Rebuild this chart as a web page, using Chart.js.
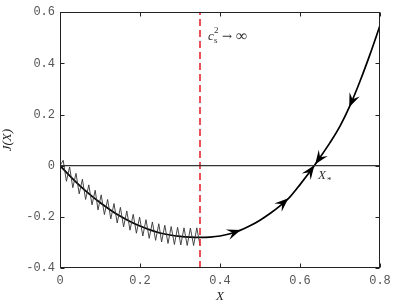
<!DOCTYPE html>
<html>
<head>
<meta charset="utf-8">
<script src="https://cdn.jsdelivr.net/npm/chart.js@4/dist/chart.umd.min.js"></script>
<style>body{margin:0;background:#fff}</style>
</head>
<body>
<canvas id="myChart" width="397" height="304"></canvas>
<script>
// smooth J(X) curve
const curveX = [0, 0.025, 0.05, 0.075, 0.1, 0.125, 0.15, 0.175, 0.2, 0.225, 0.25, 0.275, 0.3, 0.325, 0.35,
  0.375, 0.4, 0.425, 0.45, 0.475, 0.5, 0.525, 0.55, 0.575, 0.6, 0.625, 0.65, 0.675, 0.7, 0.725, 0.75, 0.775, 0.8];
const curveY = [0, -0.041, -0.079, -0.113, -0.144, -0.172, -0.197, -0.218, -0.236, -0.251, -0.263, -0.271, -0.276, -0.279, -0.28,
  -0.279, -0.275, -0.266, -0.253, -0.235, -0.213, -0.187, -0.157, -0.122, -0.074, -0.023, 0.032, 0.09, 0.155, 0.235, 0.33, 0.435, 0.548];

// oscillating branch
const zigX = [0, 0.008, 0.016, 0.024, 0.032, 0.040, 0.048, 0.056, 0.064, 0.072, 0.080, 0.088, 0.095, 0.103, 0.111,
  0.119, 0.127, 0.135, 0.143, 0.151, 0.159, 0.167, 0.175, 0.183, 0.191, 0.199, 0.207, 0.215, 0.223, 0.231,
  0.239, 0.247, 0.254, 0.262, 0.270, 0.278, 0.286, 0.294, 0.302, 0.310, 0.318, 0.326, 0.334, 0.342, 0.350];
const zigY = [0, 0.021, -0.061, -0.005, -0.086, -0.030, -0.110, -0.053, -0.132, -0.075, -0.153, -0.096, -0.173, -0.114, -0.191,
  -0.132, -0.208, -0.148, -0.224, -0.163, -0.239, -0.177, -0.252, -0.190, -0.264, -0.201, -0.275, -0.211, -0.284, -0.220,
  -0.292, -0.227, -0.298, -0.233, -0.304, -0.238, -0.308, -0.241, -0.310, -0.243, -0.312, -0.244, -0.312, -0.243, -0.311];

const csInfX = 0.35;
const xTicks = [0, 0.2, 0.4, 0.6, 0.8];
const yTicks = [-0.4, -0.2, 0, 0.2, 0.4, 0.6];

// arrow heads: tip position on curve and direction (+1 towards larger X)
const arrowX = [0.452, 0.571, 0.636, 0.723, 0.638];
const arrowDir = [1, 1, 1, -1, -1];

function pts(xs, ys) { return xs.map((x, i) => ({x: x, y: ys[i]})); }

function curveAt(x) {
  for (let i = 1; i < curveX.length; i++) {
    if (x <= curveX[i]) {
      const t = (x - curveX[i - 1]) / (curveX[i] - curveX[i - 1]);
      return curveY[i - 1] + t * (curveY[i] - curveY[i - 1]);
    }
  }
  return curveY[curveY.length - 1];
}

const framePlugin = {
  id: 'frame',
  afterDatasetsDraw(chart) {
    const ctx = chart.ctx, a = chart.chartArea;
    const xs = chart.scales.x, ys = chart.scales.y;
    ctx.save();
    ctx.strokeStyle = '#222';
    ctx.lineWidth = 1;
    const L = Math.round(a.left) + 0.5, R = Math.round(a.right) - 0.5;
    const T = Math.round(a.top) + 0.5, B = Math.round(a.bottom) - 0.5;
    ctx.strokeRect(L, T, R - L, B - T);
    ctx.beginPath();
    xTicks.forEach(v => {
      const p = Math.round(xs.getPixelForValue(v)) + 0.5;
      ctx.moveTo(p, B); ctx.lineTo(p, B - 4);
      ctx.moveTo(p, T); ctx.lineTo(p, T + 4);
    });
    yTicks.forEach(v => {
      const p = Math.round(ys.getPixelForValue(v)) + 0.5;
      ctx.moveTo(L, p); ctx.lineTo(L + 4, p);
      ctx.moveTo(R, p); ctx.lineTo(R - 4, p);
    });
    ctx.stroke();

    // arrow heads
    ctx.fillStyle = '#000';
    arrowX.forEach((x, i) => {
      const tx = xs.getPixelForValue(x), ty = ys.getPixelForValue(curveAt(x));
      const bx = xs.getPixelForValue(x - arrowDir[i] * 0.015);
      const by = ys.getPixelForValue(curveAt(x - arrowDir[i] * 0.015));
      const ang = Math.atan2(ty - by, tx - bx);
      ctx.save();
      ctx.translate(tx, ty);
      ctx.rotate(ang);
      ctx.beginPath();
      ctx.moveTo(0, 0);
      ctx.lineTo(-14, -5.5);
      ctx.lineTo(-8.5, 0);
      ctx.lineTo(-14, 5.5);
      ctx.closePath();
      ctx.fill();
      ctx.restore();
    });

    // labels
    ctx.fillStyle = '#333';
    ctx.textBaseline = 'alphabetic';
    ctx.font = 'italic 13px "Liberation Serif"';
    ctx.fillText('c', 208, 40);
    ctx.font = '9px "Liberation Serif"';
    ctx.fillText('2', 214, 33);
    ctx.fillText('s', 214, 43);
    ctx.font = '12px "DejaVu Serif"';
    ctx.fillText('\u2192', 222, 40);
    ctx.font = '16px "Liberation Serif"';
    ctx.fillText('\u221E', 236, 41);
    ctx.font = 'italic 13px "Liberation Serif"';
    ctx.fillText('X', 318, 179);
    ctx.font = '9px "Liberation Serif"';
    ctx.fillText('*', 327, 183);
    ctx.restore();
  }
};

const config = {
  type: 'scatter',
  data: {
    datasets: [
      {
        data: [{x: 0, y: 0}, {x: 0.8, y: 0}],
        showLine: true, borderColor: '#333', borderWidth: 1.2, pointRadius: 0
      },
      {
        data: [{x: csInfX, y: -0.4}, {x: csInfX, y: 0.6}],
        showLine: true, borderColor: '#e3262e', borderWidth: 1.6, borderDash: [7, 4], pointRadius: 0
      },
      {
        data: pts(zigX, zigY),
        showLine: true, borderColor: '#333', borderWidth: 0.9, pointRadius: 0
      },
      {
        data: pts(curveX, curveY),
        showLine: true, borderColor: '#000', borderWidth: 1.7, pointRadius: 0, cubicInterpolationMode: 'monotone'
      }
    ]
  },
  options: {
    responsive: false,
    animation: false,
    layout: { padding: { left: 0, right: 17, top: 11, bottom: 0 } },
    plugins: { legend: { display: false }, tooltip: { enabled: false } },
    scales: {
      x: {
        type: 'linear', min: 0, max: 0.8,
        afterFit: s => { s.height = 36; },
        afterBuildTicks: s => { s.ticks = xTicks.map(v => ({value: v})); },
        grid: { display: false, drawTicks: false },
        border: { display: false },
        ticks: {
          padding: 6, color: '#555',
          font: { family: '"Liberation Mono"', size: 12 },
          callback: v => String(+v.toFixed(1))
        },
        title: {
          display: true, text: 'X', color: '#222', padding: 0,
          font: { family: '"Liberation Serif"', style: 'italic', size: 13 }
        }
      },
      y: {
        type: 'linear', min: -0.4, max: 0.6,
        afterFit: s => { s.width = 60; },
        afterBuildTicks: s => { s.ticks = yTicks.map(v => ({value: v})); },
        grid: { display: false, drawTicks: false },
        border: { display: false },
        ticks: {
          padding: 5, color: '#555',
          font: { family: '"Liberation Mono"', size: 12 },
          callback: v => String(+v.toFixed(1))
        },
        title: {
          display: true, text: 'J(X)', color: '#222', padding: 0,
          font: { family: '"Liberation Serif"', style: 'italic', size: 13 }
        }
      }
    }
  },
  plugins: [framePlugin]
};

const ctx = document.getElementById('myChart').getContext('2d');
const myChart = new Chart(ctx, config);
</script>
</body>
</html>
